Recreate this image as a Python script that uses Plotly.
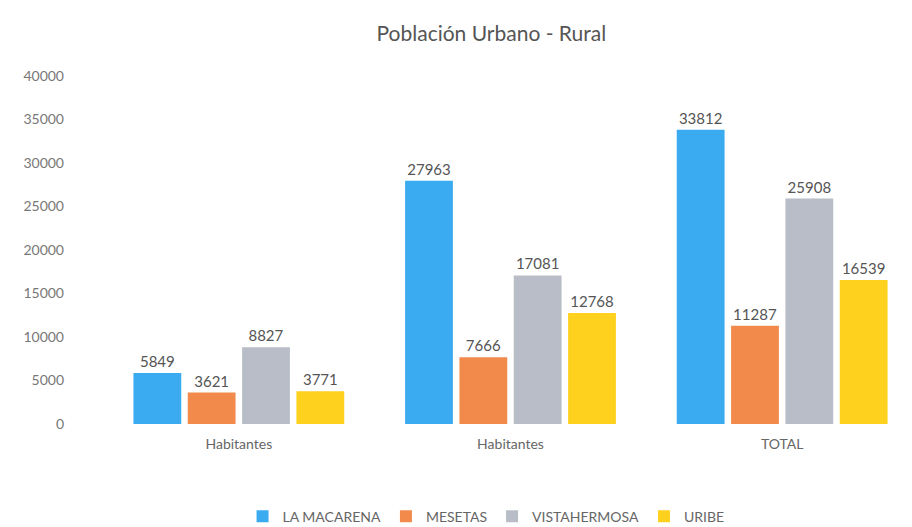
import plotly.graph_objects as go

group_labels = ["Habitantes", "Habitantes", "TOTAL"]
series_names = ["LA MACARENA", "MESETAS", "VISTAHERMOSA", "URIBE"]
la_macarena = [5849, 27963, 33812]
mesetas = [3621, 7666, 11287]
vistahermosa = [8827, 17081, 25908]
uribe = [3771, 12768, 16539]
y_ticks = [0, 5000, 10000, 15000, 20000, 25000, 30000, 35000, 40000]

colors = ["#3AABF0", "#F28A4C", "#B9BDC7", "#FFD11F"]
values = [la_macarena, mesetas, vistahermosa, uribe]
xpos = list(range(len(group_labels)))

fig = go.Figure()
for name, vals, c in zip(series_names, values, colors):
    fig.add_trace(go.Bar(
        x=xpos, y=vals, name=name, marker=dict(color=c, line=dict(width=0)),
        text=[str(v) for v in vals], textposition="outside",
        textfont=dict(size=15, color="#555555", family="Lato, Open Sans, sans-serif"),
        cliponaxis=False,
    ))

fig.update_layout(
    width=912, height=527,
    paper_bgcolor="white", plot_bgcolor="white",
    font=dict(family="Lato, Open Sans, sans-serif", color="#666666"),
    title=dict(text="Población Urbano - Rural", x=0.53, y=0.965, xanchor="center",
               font=dict(size=21, color="#555555")),
    barmode="group", bargap=0.2, bargroupgap=0.12,
    margin=dict(l=95, r=2, t=68, b=102),
    legend=dict(orientation="h", x=0.47, xanchor="center", y=-0.22, yanchor="top",
                font=dict(size=14, color="#666666")),
    showlegend=True,
    xaxis=dict(tickmode="array", tickvals=xpos, ticktext=group_labels,
               showgrid=False, showline=False, zeroline=False, ticks="",
               ticklabelstandoff=10,
               tickfont=dict(size=14, color="#666666"), range=[-0.5, 2.5]),
    yaxis=dict(range=[0, 40000], tickvals=y_ticks, ticktext=[str(t) for t in y_ticks],
               showgrid=False, zeroline=False, ticklabelstandoff=38,
               showline=False, ticks="", tickfont=dict(size=14, color="#777777")),
)

fig.write_html("out.html")
